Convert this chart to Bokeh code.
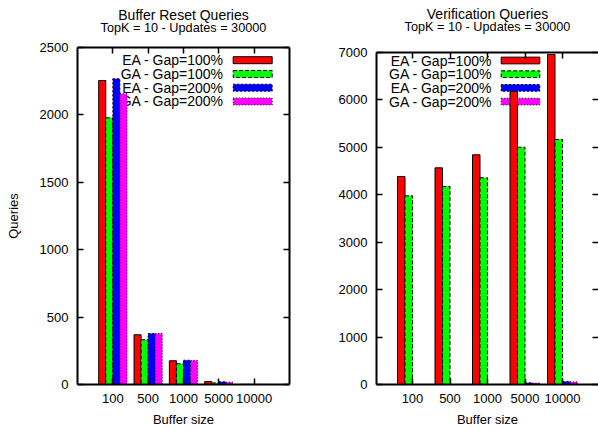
from bokeh.plotting import figure
from bokeh.models import Range1d, FixedTicker, SingleIntervalTicker, LinearAxis, Title, ColumnDataSource
from bokeh.layouts import row, column
from bokeh.transform import dodge
from bokeh.embed import file_html
from bokeh.resources import INLINE
from bokeh.core.properties import value

# ---------------- data ----------------
buffer_sizes = ["100", "500", "1000", "5000", "10000"]
series_names = ["EA - Gap=100%", "GA - Gap=100%", "EA - Gap=200%", "GA - Gap=200%"]

reset_ea_100 = [2255, 369, 176, 22, 1]
reset_ga_100 = [1978, 332, 154, 12, 1]
reset_ea_200 = [2268, 378, 180, 20, 1]
reset_ga_200 = [2157, 378, 178, 17, 1]

verif_ea_100 = [4385, 4568, 4843, 6180, 6958]
verif_ga_100 = [3978, 4175, 4358, 5003, 5166]
verif_ea_200 = [0, 0, 0, 35, 65]
verif_ga_200 = [0, 0, 0, 30, 55]

# ---------------- style ----------------
FONT = "Liberation Sans"
colors = ["#ff0000", "#00ff00", "#0000ff", "#ff00ff"]
dashes = ["solid", "4 2", "2 2", "1 2"]
offsets = [-0.3, -0.1, 0.1, 0.3]
BAR_W = 0.2


def mirror_axis(ticker, show_line=True):
    ax = LinearAxis(ticker=ticker, major_label_text_font_size="1px", major_label_text_color=None,
                    major_label_standoff=0, major_tick_in=6, major_tick_out=0,
                    minor_tick_in=0, minor_tick_out=0, axis_line_width=2,
                    major_tick_line_width=1.5)
    if not show_line:
        ax.axis_line_color = None
    return ax


def make_panel(title, subtitle, series, y_max, y_step, x_start, x_end,
               width, b_left, b_right, b_top, frame_w, frame_h, ylabel, leg,
               sub_standoff, title_standoff):
    p = figure(width=width, height=430, output_backend="svg", toolbar_location=None,
               x_range=Range1d(x_start, x_end), y_range=Range1d(0, y_max),
               min_border_left=b_left, min_border_right=b_right,
               min_border_top=b_top, min_border_bottom=430 - b_top - frame_h)
    p.xgrid.visible = False
    p.ygrid.visible = False
    p.outline_line_color = None
    p.background_fill_color = "white"
    p.border_fill_color = "white"

    xt = FixedTicker(ticks=list(range(len(buffer_sizes))))
    yt = SingleIntervalTicker(interval=y_step)
    overrides = {i: s for i, s in enumerate(buffer_sizes)}

    for ax in (p.xaxis[0], p.yaxis[0]):
        ax.major_tick_in = 6
        ax.major_tick_out = 0
        ax.minor_tick_in = 0
        ax.minor_tick_out = 0
        ax.axis_line_width = 2
        ax.axis_line_color = "black"
        ax.major_tick_line_width = 1.5
        ax.major_label_text_font = FONT
        ax.major_label_text_font_size = "13px"
        ax.major_label_text_color = "black"
        ax.axis_label_text_font = FONT
        ax.axis_label_text_font_size = "13px"
        ax.axis_label_text_font_style = "normal"
        ax.axis_label_text_color = "black"

    p.xaxis[0].ticker = xt
    p.xaxis[0].major_label_overrides = overrides
    p.xaxis[0].major_label_standoff = 9
    p.xaxis[0].axis_label = "Buffer size"
    p.xaxis[0].axis_label_standoff = 6

    p.yaxis[0].ticker = yt
    p.yaxis[0].major_label_standoff = 9
    if ylabel:
        p.yaxis[0].axis_label = ylabel
        p.yaxis[0].axis_label_standoff = 16

    # top mirror axis carries the subtitle as its label
    top = mirror_axis(xt)
    top.axis_label = subtitle
    top.axis_label_text_font = FONT
    top.axis_label_text_font_size = "12.7px"
    top.axis_label_text_font_style = "normal"
    top.axis_label_text_color = "black"
    top.axis_label_standoff = sub_standoff
    p.add_layout(top, "above")
    p.add_layout(mirror_axis(yt, show_line=b_right > 0), "right")

    p.add_layout(Title(text=title, align="center", text_font=FONT, text_font_size="14px",
                       text_font_style="normal", text_color="black",
                       standoff=title_standoff), "above")

    px_x = (x_end - x_start) / frame_w
    px_y = y_max / frame_h

    # legend (drawn first, bars are painted over it as in the original)
    tx, sx0, sx1, ry0, rstep, sh = leg
    for i, name in enumerate(series_names):
        yc = y_max - (ry0 + i * rstep) * px_y
        p.text(x=[x_start + tx * px_x], y=[yc], text=[name], text_font=value(FONT),
               text_font_size="14px", text_align="right", text_baseline="middle",
               text_color="black")
        p.quad(left=[x_start + sx0 * px_x], right=[x_start + sx1 * px_x],
               bottom=[yc - sh / 2 * px_y], top=[yc + sh / 2 * px_y],
               fill_color=colors[i], line_color="black", line_width=1, line_dash=dashes[i])

    src = ColumnDataSource(dict(x=list(range(len(buffer_sizes))),
                                s0=series[0], s1=series[1], s2=series[2], s3=series[3]))
    for i in range(4):
        p.vbar(x=dodge("x", offsets[i], range=p.x_range), top="s%d" % i, width=BAR_W, bottom=0,
               source=src, fill_color=colors[i], line_color="black", line_width=1,
               line_dash=dashes[i])
    return p


left = make_panel("Buffer Reset Queries", "TopK = 10 - Updates = 30000",
                  [reset_ea_100, reset_ga_100, reset_ea_200, reset_ga_200],
                  2500, 500, -1.0, 5.0, 299, 77, 10, 47, 212, 337, "Queries",
                  (146.3, 155.7, 194.7, 12.7, 13.75, 7), 13, -11)

right = make_panel("Verification Queries", "TopK = 10 - Updates = 30000",
                   [verif_ea_100, verif_ga_100, verif_ea_200, verif_ga_200],
                   7000, 1000, -0.96, -0.96 + 222 / 37.5, 299, 77, 0, 52, 222, 332, None,
                   (115.7, 124.7, 163.3, 8.0, 13.7, 6.7), 19, -11)

layout = row(column(left), column(right))
open("out.html", "w").write(file_html(layout, INLINE))
